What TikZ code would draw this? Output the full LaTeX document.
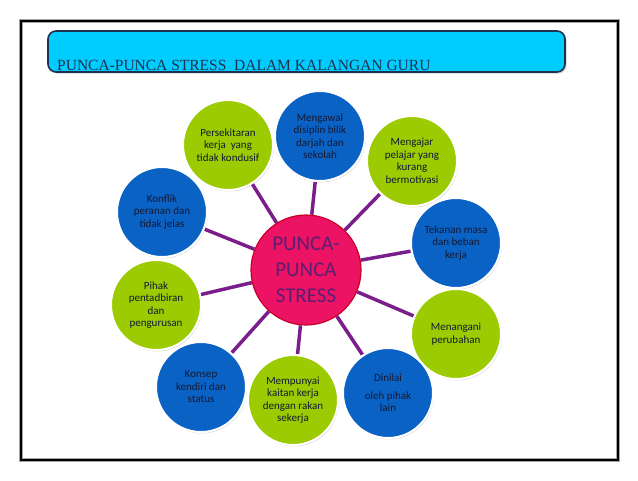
\documentclass[tikz,border=0pt]{standalone}
\usepackage{fontspec}
\setmainfont{Carlito}
\newfontfamily\titlefont{Liberation Serif}
\usetikzlibrary{shadows,backgrounds}

\definecolor{bubblue}{RGB}{10,98,196}
\definecolor{bubgreen}{RGB}{155,203,0}
\definecolor{hubpink}{RGB}{236,18,100}
\definecolor{hubred}{RGB}{200,0,40}
\definecolor{hubtext}{RGB}{92,30,112}
\definecolor{spokepurple}{RGB}{122,30,140}
\definecolor{titlecyan}{RGB}{0,204,255}
\definecolor{titleedge}{RGB}{30,50,80}
\definecolor{bubtext}{RGB}{20,25,50}

\begin{document}
\begin{tikzpicture}[x=1pt,y=-1pt,
    bubble/.style={circle, minimum size=90pt, inner sep=0pt, draw=white, line width=2pt,
      align=center, text=bubtext, font=\fontsize{11}{12.5}\selectfont,
      drop shadow={opacity=0.25, shadow xshift=1pt, shadow yshift=-1.5pt}},
    bluebub/.style={bubble, fill=bubblue},
    greenbub/.style={bubble, fill=bubgreen},
    hub/.style={circle, minimum size=110pt, inner sep=0pt, fill=hubpink, draw=hubred,
      line width=1.2pt, align=center, text=hubtext, font=\fontsize{21}{26}\selectfont},
    spoke/.style={spokepurple, line width=3.5pt}]
    \useasboundingbox (0,0) rectangle (638,480);

    % bingkai halaman
    \draw[gray!70, line width=4pt] (20.5,20.5) rectangle (617.5,459.5);
    \draw[black, line width=2pt] (20.5,20.5) rectangle (617.5,459.5);

    % kotak tajuk
    \draw[fill=titlecyan, draw=titleedge, line width=1.6pt, rounded corners=8pt,
      drop shadow={opacity=0.35, shadow xshift=1.5pt, shadow yshift=-1.5pt}]
      (48,31) rectangle (565,72);
    \node[anchor=base west, inner sep=0pt, text=titleedge, font=\titlefont\fontsize{15.5}{18}\selectfont]
      (tajuk) at (57,70) {PUNCA-PUNCA STRESS\ \ DALAM KALANGAN GURU};

    % pusat
    \node[hub] (punca) at (306,270) {PUNCA-\\PUNCA\\STRESS};

    % bulatan punca
    \node[greenbub] (sekitar) at (228,145) {Persekitaran\\kerja\ \ yang\\tidak kondusif};
    \node[bluebub]  (disiplin) at (320,136) {Mengawal\\disiplin bilik\\darjah dan\\sekolah};
    \node[greenbub] (pelajar) at (412,161) {Mengajar\\pelajar yang\\kurang\\bermotivasi};
    \node[bluebub]  (tekanan) at (456,243) {Tekanan masa\\dan beban\\kerja};
    \node[greenbub] (ubah) at (456,334) {Menangani\\perubahan};
    \node[bluebub]  (nilai) at (388,393) {Dinilai\\[5pt]oleh pihak\\lain};
    \node[greenbub] (rakan) at (293,400) {Mempunyai\\kaitan kerja\\dengan rakan\\sekerja};
    \node[bluebub]  (konsep) at (201,387) {Konsep\\kendiri dan\\status};
    \node[greenbub] (pihak) at (156,305) {Pihak\\pentadbiran\\dan\\pengurusan};
    \node[bluebub]  (konflik) at (162,212) {Konflik\\peranan dan\\tidak jelas};

    % jejari
    \begin{scope}[on background layer]
        \foreach \b in {sekitar,disiplin,pelajar,tekanan,ubah,nilai,rakan,konsep,pihak,konflik}
            \draw[spoke] (punca) -- (\b);
    \end{scope}
\end{tikzpicture}
\end{document}
